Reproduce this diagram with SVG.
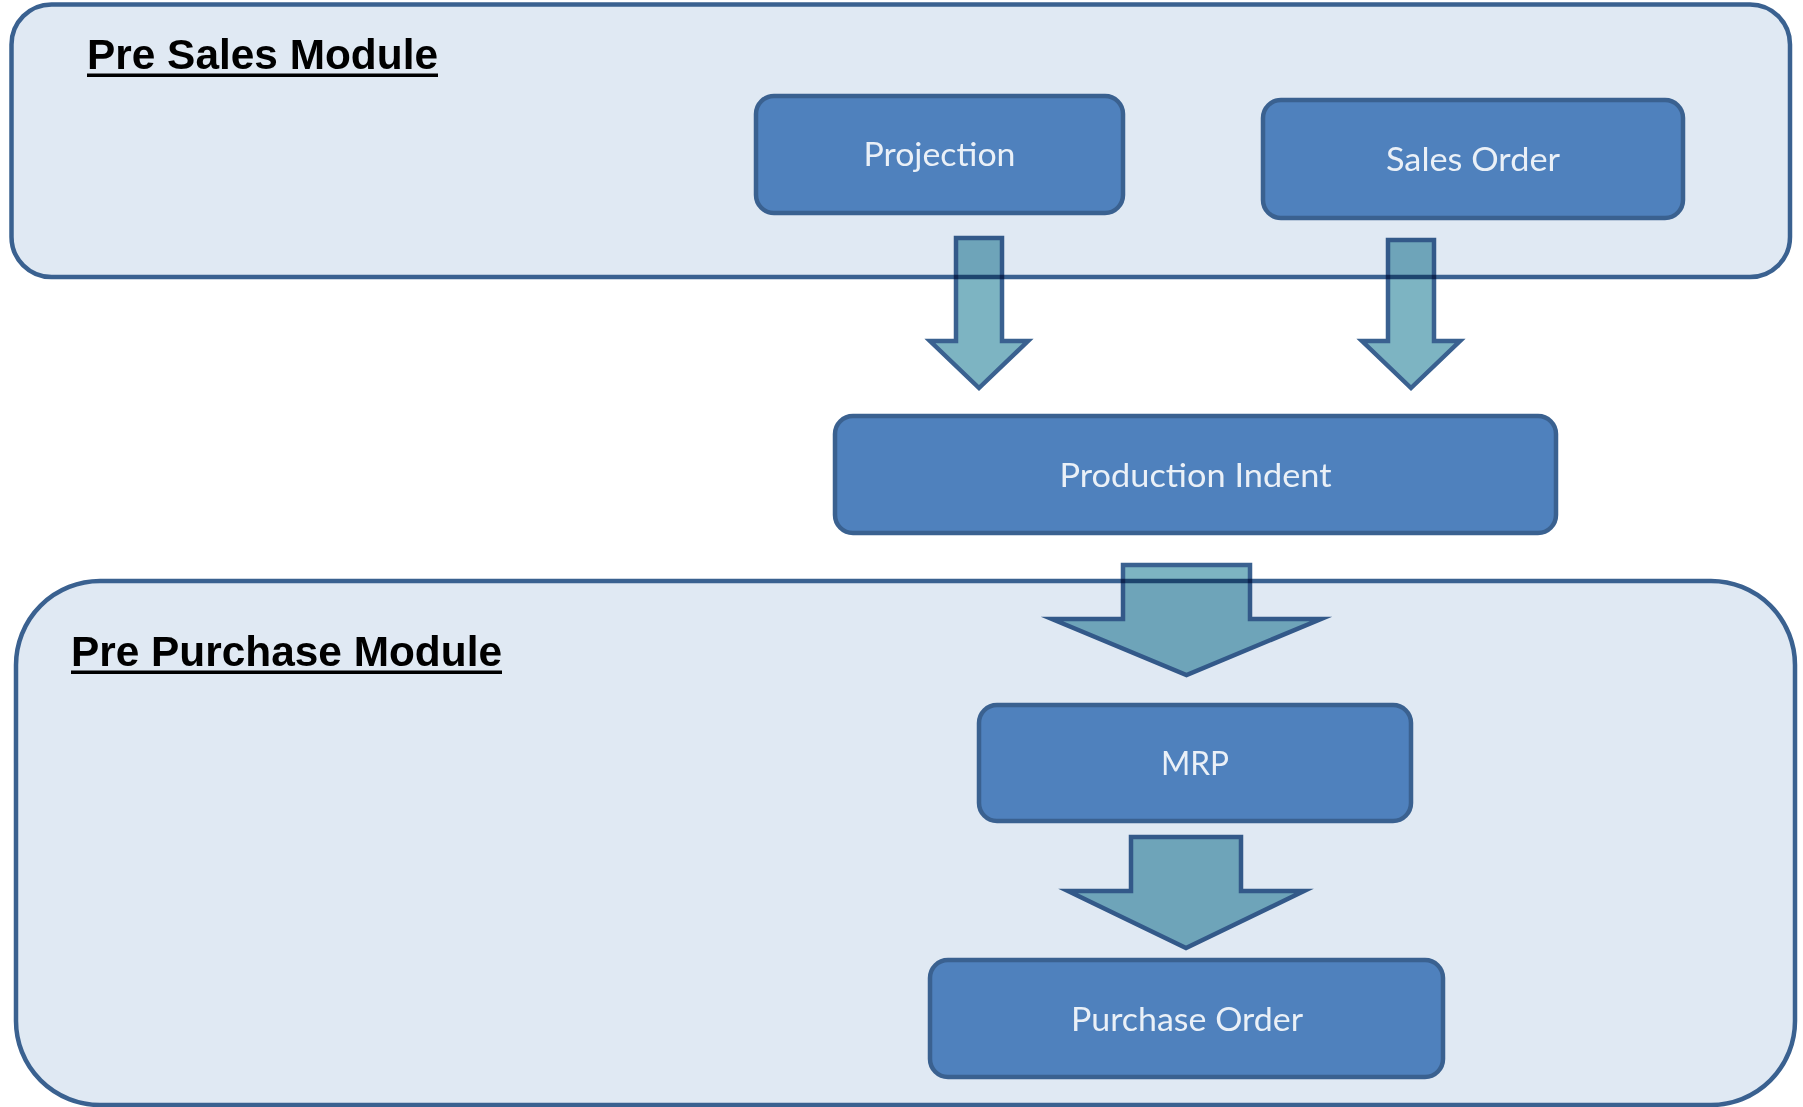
<svg xmlns="http://www.w3.org/2000/svg" width="1803" height="1107" viewBox="0 0 1803 1107">
  <style>
    .module { fill: #e0e9f3; stroke: #3a6190; stroke-width: 4.5; }
    .title { font-family: "Liberation Sans", Arial, sans-serif; font-weight: bold; font-size: 42.5px; fill: #000000; }
    .uline { fill: #000000; }
    .box { fill: #4f81bd; stroke: #3a6190; stroke-width: 4.5; }
    .label { font-family: Lato, "Open Sans", sans-serif; font-size: 33px; fill: #eaf0f7; text-anchor: middle; }
    .flow { fill: #7db4c2; stroke: #3a6190; stroke-width: 4.5; stroke-linejoin: miter; stroke-miterlimit: 10; mix-blend-mode: multiply; }
  </style>

  <rect width="1803" height="1107" fill="#ffffff"/>

  <!-- Module frames -->
  <g id="pre-sales-module">
    <rect class="module" x="11.5" y="4.5" width="1778.5" height="272.5" rx="40" ry="40"/>
    <text class="title" x="87" y="69" textLength="351" lengthAdjust="spacingAndGlyphs">Pre Sales Module</text>
    <rect class="uline" x="87" y="73.5" width="351" height="3.5"/>
  </g>

  <g id="pre-purchase-module">
    <rect class="module" x="16" y="581" width="1779" height="524" rx="84" ry="84"/>
    <text class="title" x="71" y="666" textLength="431" lengthAdjust="spacingAndGlyphs">Pre Purchase Module</text>
    <rect class="uline" x="71" y="670.5" width="431" height="3.5"/>
  </g>

  <!-- Process steps -->
  <g id="projection">
    <rect class="box" x="756" y="96" width="367" height="117" rx="18" ry="18"/>
    <text class="label" x="939.5" y="166" textLength="152" lengthAdjust="spacingAndGlyphs">Projection</text>
  </g>

  <g id="sales-order">
    <rect class="box" x="1263" y="100" width="420" height="118" rx="18" ry="18"/>
    <text class="label" x="1473" y="171" textLength="174" lengthAdjust="spacingAndGlyphs">Sales Order</text>
  </g>

  <g id="production-indent">
    <rect class="box" x="835" y="416" width="721" height="117" rx="18" ry="18"/>
    <text class="label" x="1195.5" y="487" textLength="272" lengthAdjust="spacingAndGlyphs">Production Indent</text>
  </g>

  <g id="mrp">
    <rect class="box" x="979" y="705" width="432" height="116" rx="18" ry="18"/>
    <text class="label" x="1195" y="775" textLength="68" lengthAdjust="spacingAndGlyphs">MRP</text>
  </g>

  <g id="purchase-order">
    <rect class="box" x="930" y="960" width="513" height="117" rx="18" ry="18"/>
    <text class="label" x="1187" y="1031" textLength="232" lengthAdjust="spacingAndGlyphs">Purchase Order</text>
  </g>

  <!-- Block arrows between steps -->
  <g id="connectors">
    <path class="flow" d="M956,238 H1002 V341 H1028 L979,388 L930,341 H956 Z"/>
    <path class="flow" d="M1388,240 H1434 V341 H1460 L1411,388 L1362,341 H1388 Z"/>
    <path class="flow" d="M1123,565 H1250 V619 H1321 L1186.5,675 L1052,619 H1123 Z"/>
    <path class="flow" d="M1131,837 H1241 V891 H1304 L1186,948 L1068,891 H1131 Z"/>
  </g>
</svg>
